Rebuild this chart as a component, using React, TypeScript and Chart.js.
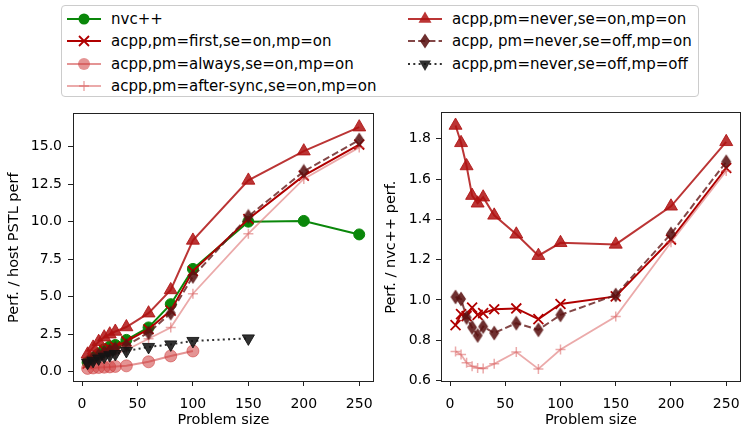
import React, { useEffect, useRef } from 'react';
import { Chart, registerables } from 'chart.js';

Chart.register(...registerables);

// ---------------- data ----------------
const sizes = [5, 10, 15, 20, 25, 30, 40, 60, 80, 100, 150, 200, 250];
const sizesAlways = [5, 10, 15, 20, 25, 30, 40, 60, 80, 100];
const sizesOffOff = [5, 10, 15, 20, 25, 30, 40, 60, 80, 100, 150];

// left panel: Perf. / host PSTL perf
const nvcpp = [0.62, 0.92, 1.2, 1.5, 1.68, 1.78, 2.12, 2.95, 4.5, 6.85, 10.0, 10.05, 9.15];
const pmFirst = [0.54, 0.86, 1.1, 1.44, 1.56, 1.66, 2.02, 2.83, 4.07, 6.71, 10.18, 13.07, 15.14];
const pmAlways = [0.22, 0.25, 0.28, 0.3, 0.32, 0.35, 0.39, 0.66, 1.05, 1.38];
const pmAfterSync = [0.46, 0.67, 0.83, 1.02, 1.12, 1.18, 1.45, 2.2, 2.95, 5.2, 9.2, 12.85, 14.95];
const pmNeverOn = [1.16, 1.62, 2.0, 2.3, 2.5, 2.68, 2.98, 3.9, 5.45, 8.75, 12.75, 14.7, 16.3];
const pmNeverOffOn = [0.63, 0.92, 1.1, 1.3, 1.4, 1.55, 1.75, 2.6, 3.9, 6.35, 10.35, 13.35, 15.45];
const pmNeverOffOff = [0.6, 0.72, 0.88, 1.0, 1.1, 1.18, 1.38, 1.65, 1.82, 2.05, 2.22];

// right panel: Perf. / nvc++ perf.
const rFirst = [0.875, 0.93, 0.92, 0.962, 0.926, 0.935, 0.954, 0.958, 0.905, 0.98, 1.018, 1.3, 1.655];
const rAfterSync = [0.745, 0.729, 0.688, 0.671, 0.663, 0.66, 0.683, 0.742, 0.658, 0.754, 0.918, 1.287, 1.64];
const rNeverOn = [1.866, 1.78, 1.665, 1.518, 1.48, 1.51, 1.42, 1.326, 1.22, 1.284, 1.276, 1.465, 1.785];
const rNeverOffOn = [1.015, 1.005, 0.913, 0.864, 0.824, 0.868, 0.836, 0.885, 0.852, 0.926, 1.025, 1.328, 1.686];

const xTicks = [0, 50, 100, 150, 200, 250];
const yTicksLeft = [0, 2.5, 5, 7.5, 10, 12.5, 15];
const yTicksRight = [0.6, 0.8, 1.0, 1.2, 1.4, 1.6, 1.8];

const labels = [
  'nvc++',
  'acpp,pm=first,se=on,mp=on',
  'acpp,pm=always,se=on,mp=on',
  'acpp,pm=after-sync,se=on,mp=on',
  'acpp,pm=never,se=on,mp=on',
  'acpp, pm=never,se=off,mp=on',
  'acpp,pm=never,se=off,mp=off',
];

// ---------------- styles ----------------
const FONT = "'DejaVu Sans', sans-serif";
const C_GREEN = '#0a870a';
const C_FIRST = '#b00000';
const C_ALWAYS = 'rgba(205,60,60,0.55)';
const C_AFTER = 'rgba(215,85,85,0.5)';
const C_NEVERON = 'rgba(175,18,18,0.85)';
const C_OFFON_LINE = 'rgba(100,25,25,0.8)';
const C_OFFON_FILL = 'rgba(90,18,18,0.88)';
const C_OFFOFF = 'rgba(20,20,20,0.88)';

function makeDiamond(): HTMLCanvasElement {
  const c = document.createElement('canvas');
  c.width = 12;
  c.height = 16;
  const g = c.getContext('2d')!;
  g.fillStyle = C_OFFON_FILL;
  g.beginPath();
  g.moveTo(6, 0.5);
  g.lineTo(11, 8);
  g.lineTo(6, 15.5);
  g.lineTo(1, 8);
  g.closePath();
  g.fill();
  return c;
}

const pts = (xs: number[], ys: number[]) => xs.map((x, i) => ({ x, y: ys[i] }));

function styleFor(i: number, diamond: HTMLCanvasElement): any {
  switch (i) {
    case 0:
      return { borderColor: C_GREEN, backgroundColor: C_GREEN, borderWidth: 2, pointStyle: 'circle', pointRadius: 5.5, pointBorderWidth: 1, pointBorderColor: C_GREEN, pointBackgroundColor: C_GREEN };
    case 1:
      return { borderColor: C_FIRST, backgroundColor: C_FIRST, borderWidth: 2, pointStyle: 'crossRot', pointRadius: 7, pointBorderWidth: 1.8, pointBorderColor: C_FIRST };
    case 2:
      return { borderColor: C_ALWAYS, backgroundColor: C_ALWAYS, borderWidth: 2, pointStyle: 'circle', pointRadius: 6, pointBorderWidth: 1, pointBorderColor: C_ALWAYS, pointBackgroundColor: C_ALWAYS };
    case 3:
      return { borderColor: C_AFTER, backgroundColor: C_AFTER, borderWidth: 1.8, pointStyle: 'cross', pointRadius: 5, pointBorderWidth: 1.5, pointBorderColor: C_AFTER };
    case 4:
      return { borderColor: C_NEVERON, backgroundColor: C_NEVERON, borderWidth: 2, pointStyle: 'triangle', pointRadius: 7.5, pointBorderWidth: 1, pointBorderColor: C_NEVERON, pointBackgroundColor: C_NEVERON };
    case 5:
      return { borderColor: C_OFFON_LINE, backgroundColor: C_OFFON_FILL, borderWidth: 2, borderDash: [7, 3.2], pointStyle: diamond, pointRadius: 7 };
    default:
      return { borderColor: C_OFFOFF, backgroundColor: C_OFFOFF, borderWidth: 2, borderDash: [2, 3.3], pointStyle: 'triangle', pointRotation: 180, pointRadius: 7, pointBorderWidth: 1, pointBorderColor: C_OFFOFF, pointBackgroundColor: C_OFFOFF };
  }
}

const framePlugin = {
  id: 'frame',
  afterDraw(chart: any) {
    const { ctx, chartArea: a } = chart;
    ctx.save();
    ctx.strokeStyle = '#222';
    ctx.lineWidth = 1;
    ctx.strokeRect(Math.round(a.left) - 0.5, Math.round(a.top) - 0.5, Math.round(a.right - a.left) + 1, Math.round(a.bottom - a.top) + 1);
    ctx.restore();
  },
};

function xScale(): any {
  return {
    type: 'linear',
    min: -7.25,
    max: 262.25,
    afterBuildTicks: (s: any) => {
      s.ticks = xTicks.map((v) => ({ value: v }));
    },
    afterFit: (s: any) => {
      s.height = 44;
    },
    border: { display: false },
    grid: { drawOnChartArea: false, drawTicks: true, tickLength: 5, color: '#222', lineWidth: 1 },
    ticks: { padding: 10, color: '#000', font: { family: FONT, size: 14 }, maxRotation: 0, autoSkip: false, callback: (v: any) => String(v) },
    title: { display: true, text: 'Problem size', color: '#000', font: { family: FONT, size: 14.5 }, padding: { top: 0, bottom: -4 } },
  };
}

function yScale(min: number, max: number, ticks: number[], width: number, title: string, titlePad: number, tickPad: number): any {
  return {
    type: 'linear',
    min,
    max,
    afterBuildTicks: (s: any) => {
      s.ticks = ticks.map((v) => ({ value: v }));
    },
    afterFit: (s: any) => {
      s.width = width;
    },
    border: { display: false },
    grid: { drawOnChartArea: false, drawTicks: true, tickLength: 6, color: '#222', lineWidth: 1 },
    ticks: { padding: tickPad, color: '#000', font: { family: FONT, size: 14 }, autoSkip: false, callback: (v: any) => Number(v).toFixed(1) },
    title: { display: true, text: title, color: '#000', font: { family: FONT, size: 14.5 }, padding: { top: titlePad, bottom: 0 } },
  };
}

function baseOptions(scales: any, padRight: number): any {
  return {
    responsive: false,
    animation: false,
    events: [],
    layout: { padding: { left: 0, top: 9, right: padRight, bottom: 0 } },
    plugins: { legend: { display: false }, tooltip: { enabled: false } },
    scales,
  };
}

// ---------------- legend ----------------
function Marker({ i }: { i: number }) {
  const cx = 17;
  const cy = 8;
  const line = (color: string, w: number, dash?: string) => (
    <line x1={0} y1={cy} x2={34} y2={cy} stroke={color} strokeWidth={w} strokeDasharray={dash} />
  );
  switch (i) {
    case 0:
      return (<>{line(C_GREEN, 2)}<circle cx={cx} cy={cy} r={5.5} fill={C_GREEN} /></>);
    case 1:
      return (<>{line(C_FIRST, 2)}<path d={`M${cx - 5} ${cy - 5} L${cx + 5} ${cy + 5} M${cx - 5} ${cy + 5} L${cx + 5} ${cy - 5}`} stroke={C_FIRST} strokeWidth={1.8} /></>);
    case 2:
      return (<>{line(C_ALWAYS, 2)}<circle cx={cx} cy={cy} r={6} fill={C_ALWAYS} /></>);
    case 3:
      return (<>{line(C_AFTER, 1.8)}<path d={`M${cx - 5} ${cy} L${cx + 5} ${cy} M${cx} ${cy - 5} L${cx} ${cy + 5}`} stroke={C_AFTER} strokeWidth={1.5} /></>);
    case 4:
      return (<>{line(C_NEVERON, 2)}<polygon points={`${cx},${cy - 7.5} ${cx + 6.5},${cy + 3.75} ${cx - 6.5},${cy + 3.75}`} fill={C_NEVERON} /></>);
    case 5:
      return (<>{line(C_OFFON_LINE, 2, '7 3.2')}<polygon points={`${cx},${cy - 7.5} ${cx + 5},${cy} ${cx},${cy + 7.5} ${cx - 5},${cy}`} fill={C_OFFON_FILL} /></>);
    default:
      return (<>{line(C_OFFOFF, 2, '2 3.3')}<polygon points={`${cx},${cy + 7} ${cx + 6},${cy - 3.5} ${cx - 6},${cy - 3.5}`} fill={C_OFFOFF} /></>);
  }
}

function Legend() {
  const rows = [17.5, 40, 62.5, 85];
  const cols = [66, 407];
  const items = labels.map((lab, i) => {
    const col = i < 4 ? 0 : 1;
    const row = i < 4 ? i : i - 4;
    return { lab, i, x: cols[col], y: rows[row] };
  });
  return (
    <div
      style={{
        position: 'absolute',
        left: 61,
        top: 5,
        width: 638,
        height: 92,
        border: '1px solid #cccccc',
        borderRadius: 4,
        background: 'rgba(255,255,255,0.8)',
        boxSizing: 'border-box',
      }}
    >
      {items.map((it) => (
        <React.Fragment key={it.i}>
          <svg width={34} height={16} style={{ position: 'absolute', left: it.x - 61, top: it.y - 5 - 8, overflow: 'visible' }}>
            <Marker i={it.i} />
          </svg>
          <div
            style={{
              position: 'absolute',
              left: it.x - 61 + 44,
              top: it.y - 5 - 10,
              height: 20,
              lineHeight: '20px',
              fontFamily: FONT,
              fontSize: 15,
              color: '#000',
              whiteSpace: 'nowrap',
            }}
          >
            {it.lab}
          </div>
        </React.Fragment>
      ))}
    </div>
  );
}

// ---------------- app ----------------
export default function App() {
  const leftRef = useRef<HTMLCanvasElement>(null);
  const rightRef = useRef<HTMLCanvasElement>(null);

  useEffect(() => {
    const diamond = makeDiamond();
    const leftSeries: [number[], number[]][] = [
      [sizes, nvcpp],
      [sizes, pmFirst],
      [sizesAlways, pmAlways],
      [sizes, pmAfterSync],
      [sizes, pmNeverOn],
      [sizes, pmNeverOffOn],
      [sizesOffOff, pmNeverOffOff],
    ];
    const leftDatasets = leftSeries.map(([xs, ys], i) => ({
      label: labels[i],
      data: pts(xs, ys),
      order: 10 - i,
      fill: false,
      tension: 0,
      ...styleFor(i, diamond),
    }));
    const rightSeries: [number, number[]][] = [
      [1, rFirst],
      [3, rAfterSync],
      [4, rNeverOn],
      [5, rNeverOffOn],
    ];
    const rightDatasets = rightSeries.map(([i, ys]) => ({
      label: labels[i],
      data: pts(sizes, ys),
      order: 10 - i,
      fill: false,
      tension: 0,
      ...styleFor(i, diamond),
    }));

    const left = new Chart(leftRef.current!, {
      type: 'line',
      data: { datasets: leftDatasets as any },
      options: baseOptions({ x: xScale(), y: yScale(-0.62, 17.15, yTicksLeft, 74, 'Perf. / host PSTL perf', 6, 6) }, 2),
      plugins: [framePlugin],
    });
    const right = new Chart(rightRef.current!, {
      type: 'line',
      data: { datasets: rightDatasets as any },
      options: baseOptions({ x: xScale(), y: yScale(0.598, 1.926, yTicksRight, 59, 'Perf. / nvc++ perf.', 0, 5) }, 1),
      plugins: [framePlugin],
    });
    return () => {
      left.destroy();
      right.destroy();
    };
  }, []);

  return (
    <div style={{ position: 'absolute', left: 0, top: 0, width: 750, height: 425, background: '#fff', overflow: 'hidden' }}>
      <canvas ref={leftRef} width={383} height={325} style={{ position: 'absolute', left: 0, top: 100, width: 383, height: 325 }} />
      <canvas ref={rightRef} width={367} height={325} style={{ position: 'absolute', left: 383, top: 100, width: 367, height: 325 }} />
      <Legend />
    </div>
  );
}
